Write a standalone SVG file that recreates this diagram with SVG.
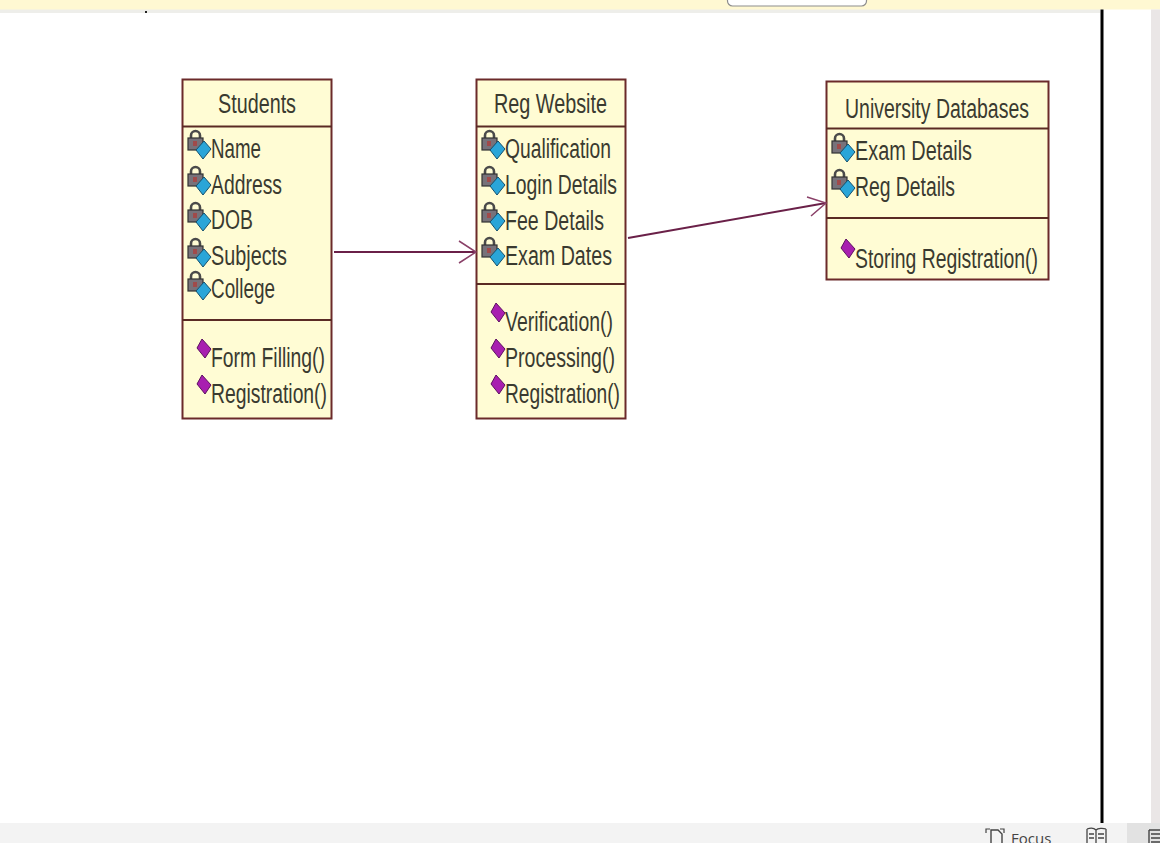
<svg xmlns="http://www.w3.org/2000/svg" width="1160" height="843" viewBox="0 0 1160 843">
<style>
.box{fill:#fffcd4;stroke:#6b2a2a;stroke-width:2}
.sep{stroke:#5a2a24;stroke-width:2}
.t{font-family:"Liberation Sans",Arial,sans-serif;font-size:27px;fill:#3a3a30}
.conn{stroke:#6a2048;stroke-width:2;fill:none}
.head{stroke:#8a4068;stroke-width:1.500;fill:none}
.ui{font-family:"Open Sans","Noto Sans",sans-serif;font-size:15px;fill:#444}
</style>
<defs>
<g id="attr">
<path d="M3 8V4.500a4.500 4.500 0 0 1 9 0V8" fill="none" stroke="#4a4a4a" stroke-width="2.600"/>
<rect x="0" y="7" width="15" height="12" fill="#77727a" stroke="#333" stroke-width="1.200"/>
<rect x="5" y="10" width="4" height="5" fill="#a04a4a"/>
<path d="M16 10l7 8-8 10-7-9z" fill="#2aa5d8" stroke="#14506e" stroke-width="1"/>
</g>
<path id="op" d="M6-1l9 10-6 9-8-10z" fill="#a81fb0" stroke="#5c1060" stroke-width="1"/>
</defs>
<rect width="1160" height="843" fill="#ffffff"/>
<rect x="0" y="9" width="1100" height="4" fill="#eeeeea"/>
<rect x="0" y="0" width="1160" height="9.500" fill="#fff8d2"/>
<rect x="727.500" y="-6" width="139" height="12" rx="5" fill="#fff" stroke="#8d8d8d" stroke-width="1.200"/>
<rect x="145" y="11" width="2" height="2" fill="#222"/>
<rect x="1100.500" y="9.500" width="3" height="814" fill="#000"/>
<rect x="1151" y="9.500" width="9" height="814" fill="#eae6e6"/>
<rect x="0" y="823" width="1160" height="20" fill="#f3f3f3"/>
<rect x="1127" y="823" width="33" height="20" fill="#e2e2e2"/>

<g id="students">
<rect class="box" x="182.500" y="79.500" width="149" height="339"/>
<path class="sep" d="M182 126.500h150M182 320h150"/>
<text class="t" x="218" y="113" textLength="78" lengthAdjust="spacingAndGlyphs">Students</text>
<use href="#attr" x="188" y="131"/><text class="t" x="211" y="158" textLength="50" lengthAdjust="spacingAndGlyphs">Name</text>
<use href="#attr" x="188" y="167"/><text class="t" x="211" y="194" textLength="71" lengthAdjust="spacingAndGlyphs">Address</text>
<use href="#attr" x="188" y="203"/><text class="t" x="211" y="229" textLength="42" lengthAdjust="spacingAndGlyphs">DOB</text>
<use href="#attr" x="188" y="239"/><text class="t" x="211" y="265" textLength="76" lengthAdjust="spacingAndGlyphs">Subjects</text>
<use href="#attr" x="188" y="272"/><text class="t" x="211" y="298" textLength="64" lengthAdjust="spacingAndGlyphs">College</text>
<use href="#op" x="196" y="340"/><text class="t" x="211" y="367" textLength="114" lengthAdjust="spacingAndGlyphs">Form Filling()</text>
<use href="#op" x="196" y="376"/><text class="t" x="211" y="403" textLength="116" lengthAdjust="spacingAndGlyphs">Registration()</text>
</g>

<g id="reg-website">
<rect class="box" x="476.500" y="79.500" width="149" height="339"/>
<path class="sep" d="M476 126.500h150M476 284h150"/>
<text class="t" x="494" y="113" textLength="113" lengthAdjust="spacingAndGlyphs">Reg Website</text>
<use href="#attr" x="482" y="131"/><text class="t" x="505" y="158" textLength="106" lengthAdjust="spacingAndGlyphs">Qualification</text>
<use href="#attr" x="482" y="167"/><text class="t" x="505" y="194" textLength="112" lengthAdjust="spacingAndGlyphs">Login Details</text>
<use href="#attr" x="482" y="203"/><text class="t" x="505" y="230" textLength="99" lengthAdjust="spacingAndGlyphs">Fee Details</text>
<use href="#attr" x="482" y="238"/><text class="t" x="505" y="265" textLength="107" lengthAdjust="spacingAndGlyphs">Exam Dates</text>
<use href="#op" x="490" y="304"/><text class="t" x="505" y="331" textLength="108" lengthAdjust="spacingAndGlyphs">Verification()</text>
<use href="#op" x="490" y="340"/><text class="t" x="505" y="367" textLength="110" lengthAdjust="spacingAndGlyphs">Processing()</text>
<use href="#op" x="490" y="376"/><text class="t" x="505" y="403" textLength="115" lengthAdjust="spacingAndGlyphs">Registration()</text>
</g>

<g id="university-databases">
<rect class="box" x="826.500" y="81.500" width="222" height="198"/>
<path class="sep" d="M826 128.500h223M826 218h223"/>
<text class="t" x="845" y="118" textLength="184" lengthAdjust="spacingAndGlyphs">University Databases</text>
<use href="#attr" x="832" y="134"/><text class="t" x="855" y="160" textLength="117" lengthAdjust="spacingAndGlyphs">Exam Details</text>
<use href="#attr" x="832" y="170"/><text class="t" x="855" y="196" textLength="100" lengthAdjust="spacingAndGlyphs">Reg Details</text>
<use href="#op" x="840" y="240"/><text class="t" x="855" y="268" textLength="183" lengthAdjust="spacingAndGlyphs">Storing Registration()</text>
</g>

<g id="connectors">
<path class="conn" d="M334 252H476"/>
<path class="head" d="M459 241l17 11-17 11"/>
<path class="conn" d="M628 238L826 203"/>
<path class="head" d="M807 197l19 6-15 13"/>
</g>

<g id="statusbar">
<path d="M986 833v-4h4M1000 829h4v4" fill="none" stroke="#444" stroke-width="1.200"/>
<path d="M991 843v-13h7l4 4v9" fill="none" stroke="#444" stroke-width="1.400"/>
<text class="ui" x="1011" y="844">Focus</text>
<path d="M1087 829c3-1 7-1 9 1v13M1106 829c-3-1-8-1-10 1M1106 829v14M1087 829v14M1089 834h5M1089 838h5M1098 834h6M1098 838h6" fill="none" stroke="#444" stroke-width="1.300"/>
<path d="M1149 830h12M1149 830v13M1151 834h9M1151 838h9M1151 842h9" fill="none" stroke="#444" stroke-width="1.400"/>
</g>
</svg>
